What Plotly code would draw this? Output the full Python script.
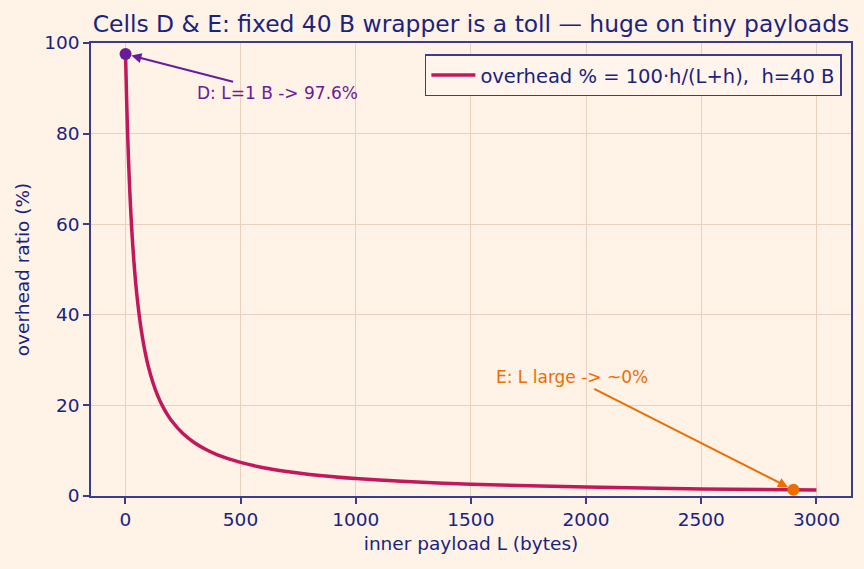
import plotly.graph_objects as go

# Data (overhead % vs inner payload L, h = 40 B)
payload_L = [1, 2, 3, 4, 5, 6, 8, 10, 12, 15, 18, 20, 25, 30, 35, 40, 45, 50, 60, 70,
             80, 90, 100, 120, 140, 160, 180, 200, 250, 300, 350, 400, 500, 600, 700,
             800, 1000, 1200, 1500, 2000, 2500, 3000]
overhead_pct = [97.56, 95.24, 93.02, 90.91, 88.89, 86.96, 83.33, 80.00, 76.92, 72.73,
                68.97, 66.67, 61.54, 57.14, 53.33, 50.00, 47.06, 44.44, 40.00, 36.36,
                33.33, 30.77, 28.57, 25.00, 22.22, 20.00, 18.18, 16.67, 13.79, 11.76,
                10.26, 9.09, 7.41, 6.25, 5.41, 4.76, 3.85, 3.23, 2.60, 1.96, 1.57, 1.32]

point_D = (1, 97.56)
point_E = (2900, 1.36)
label_D = "D: L=1 B -> 97.6%"
label_E = "E: L large -> ~0%"
text_D_pos = (661, 88.9)
text_E_pos = (1937, 26.2)

BG = "#fff2e6"
INK = "#1a237e"
SPINE = "#3d3b8e"
GRID = "#e9d0bf"
CURVE = "#c2185b"
PURPLE = "#6a1b9a"
ORANGE = "#ef6c00"
FONT = "DejaVu Sans"

fig = go.Figure()
fig.add_trace(go.Scatter(
    x=payload_L, y=overhead_pct, mode="lines",
    line=dict(color=CURVE, width=3.5, shape="spline", smoothing=0.6),
    name="overhead % = 100·h/(L+h),  h=40 B",
))
fig.add_trace(go.Scatter(
    x=[point_D[0]], y=[point_D[1]], mode="markers",
    marker=dict(color=PURPLE, size=12), showlegend=False,
))
fig.add_trace(go.Scatter(
    x=[point_E[0]], y=[point_E[1]], mode="markers",
    marker=dict(color=ORANGE, size=12), showlegend=False,
))

fig.add_annotation(
    x=point_D[0], y=point_D[1], ax=text_D_pos[0], ay=text_D_pos[1],
    xref="x", yref="y", axref="x", ayref="y",
    text=label_D, showarrow=True, arrowhead=2, arrowsize=1, arrowwidth=2,
    arrowcolor=PURPLE, standoff=6, font=dict(family=FONT, size=17, color=PURPLE),
)
fig.add_annotation(
    x=point_E[0], y=point_E[1], ax=text_E_pos[0], ay=text_E_pos[1],
    xref="x", yref="y", axref="x", ayref="y",
    text=label_E, showarrow=True, arrowhead=2, arrowsize=1, arrowwidth=2,
    arrowcolor=ORANGE, standoff=6, font=dict(family=FONT, size=17, color=ORANGE),
)

fig.update_layout(
    width=864, height=569,
    paper_bgcolor=BG, plot_bgcolor=BG,
    margin=dict(l=91, r=13, t=43, b=73),
    font=dict(family=FONT, color=INK, size=18),
    title=dict(text="Cells D & E: fixed 40 B wrapper is a toll — huge on tiny payloads",
               x=0.5, xref="paper", xanchor="center", y=1 - 24 / 569, yanchor="middle",
               font=dict(family=FONT, size=23.4, color=INK)),
    legend=dict(x=0.988, y=0.975, xanchor="right", yanchor="top",
                bgcolor="#fff5ec", bordercolor=SPINE, borderwidth=1.5,
                itemwidth=44,
                font=dict(family=FONT, size=19.5, color=INK)),
    showlegend=True,
)
fig.update_xaxes(
    range=[-149, 3150], tickvals=[0, 500, 1000, 1500, 2000, 2500, 3000],
    title=dict(text="inner payload L (bytes)", font=dict(size=18.5, color=INK), standoff=8),
    showgrid=True, gridcolor=GRID, gridwidth=1, zeroline=False,
    showline=True, linecolor=SPINE, linewidth=1.5, mirror=True,
    ticks="outside", ticklen=6, tickcolor=SPINE, tickwidth=1.5,
    tickfont=dict(size=18.5, color=INK),
)
fig.update_yaxes(
    range=[0, 100], tickvals=[0, 20, 40, 60, 80, 100],
    title=dict(text="overhead ratio (%)", font=dict(size=18.5, color=INK), standoff=10),
    showgrid=True, gridcolor=GRID, gridwidth=1, zeroline=False,
    showline=True, linecolor=SPINE, linewidth=1.5, mirror=True,
    ticks="outside", ticklen=6, tickcolor=SPINE, tickwidth=1.5,
    tickfont=dict(size=18.5, color=INK),
)

fig.write_html("out.html")
